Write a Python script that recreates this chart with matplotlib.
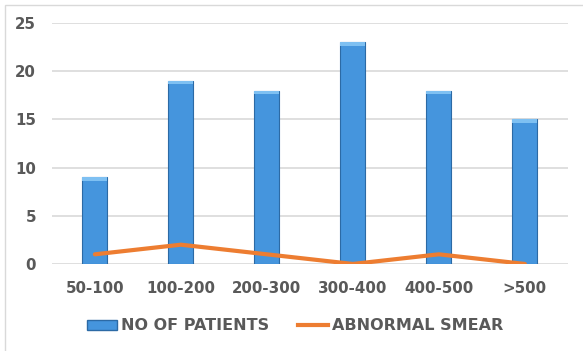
import numpy as np
import matplotlib.pyplot as plt
from matplotlib.patches import Rectangle
from matplotlib.lines import Line2D

# data
categories = ["50-100", "100-200", "200-300", "300-400", "400-500", ">500"]
patients = [9, 19, 18, 23, 18, 15]
abnormal = [1, 2, 1, 0, 1, 0]

TXT = "#595959"
BLUE = "#4595DD"
BLUE_EDGE = "#2C6AA5"
ORANGE = "#ED7D31"

plt.rcParams["font.family"] = ["DejaVu Sans"]
plt.rcParams["font.weight"] = "bold"

fig = plt.figure(figsize=(5.83, 3.51), dpi=100)
ax = fig.add_axes([0.089, 0.248, 0.885, 0.686])

x = np.arange(len(categories))
bars = ax.bar(x, patients, width=0.29, color=BLUE, edgecolor=BLUE_EDGE,
              linewidth=0.8, zorder=2)
# light bevel on bar tops
for b in bars:
    ax.add_patch(Rectangle((b.get_x(), b.get_height() - 0.35), b.get_width(), 0.35,
                           facecolor="#7EC0F2", edgecolor="none", zorder=3))
ax.plot(x, abnormal, color=ORANGE, linewidth=3, solid_capstyle="round", zorder=4)

ax.set_xlim(-0.5, len(categories) - 0.5)
ax.set_ylim(0, 25)
ax.set_yticks([0, 5, 10, 15, 20, 25])
ax.set_xticks(x)
ax.set_xticklabels(categories)
ax.grid(axis="y", color="#D9D9D9", linewidth=1.2, zorder=0)
for s in ax.spines.values():
    s.set_visible(False)
ax.tick_params(length=0, labelsize=10.8, labelcolor=TXT)
ax.tick_params(axis="x", pad=12)
ax.tick_params(axis="y", pad=11.5)
for lab in ax.get_xticklabels() + ax.get_yticklabels():
    lab.set_fontweight("bold")

handles = [Rectangle((0, 0), 1, 1, facecolor=BLUE, edgecolor=BLUE_EDGE),
           Line2D([0], [0], color=ORANGE, linewidth=3)]
leg = fig.legend(handles, ["NO OF PATIENTS", "ABNORMAL SMEAR"], loc="center",
                 bbox_to_anchor=(0.506, 0.072), ncol=2, frameon=False,
                 prop={"weight": "bold", "size": 11.5}, handlelength=1.9,
                 handleheight=0.6, handletextpad=0.25, columnspacing=1.8)
for t in leg.get_texts():
    t.set_color(TXT)

# outer chart frame
fig.add_artist(Rectangle((0.009, -0.05), 1.2, 1.036, transform=fig.transFigure,
                         fill=False, edgecolor="#D9D9D9", linewidth=1))

fig.savefig("out.png", dpi=100)
